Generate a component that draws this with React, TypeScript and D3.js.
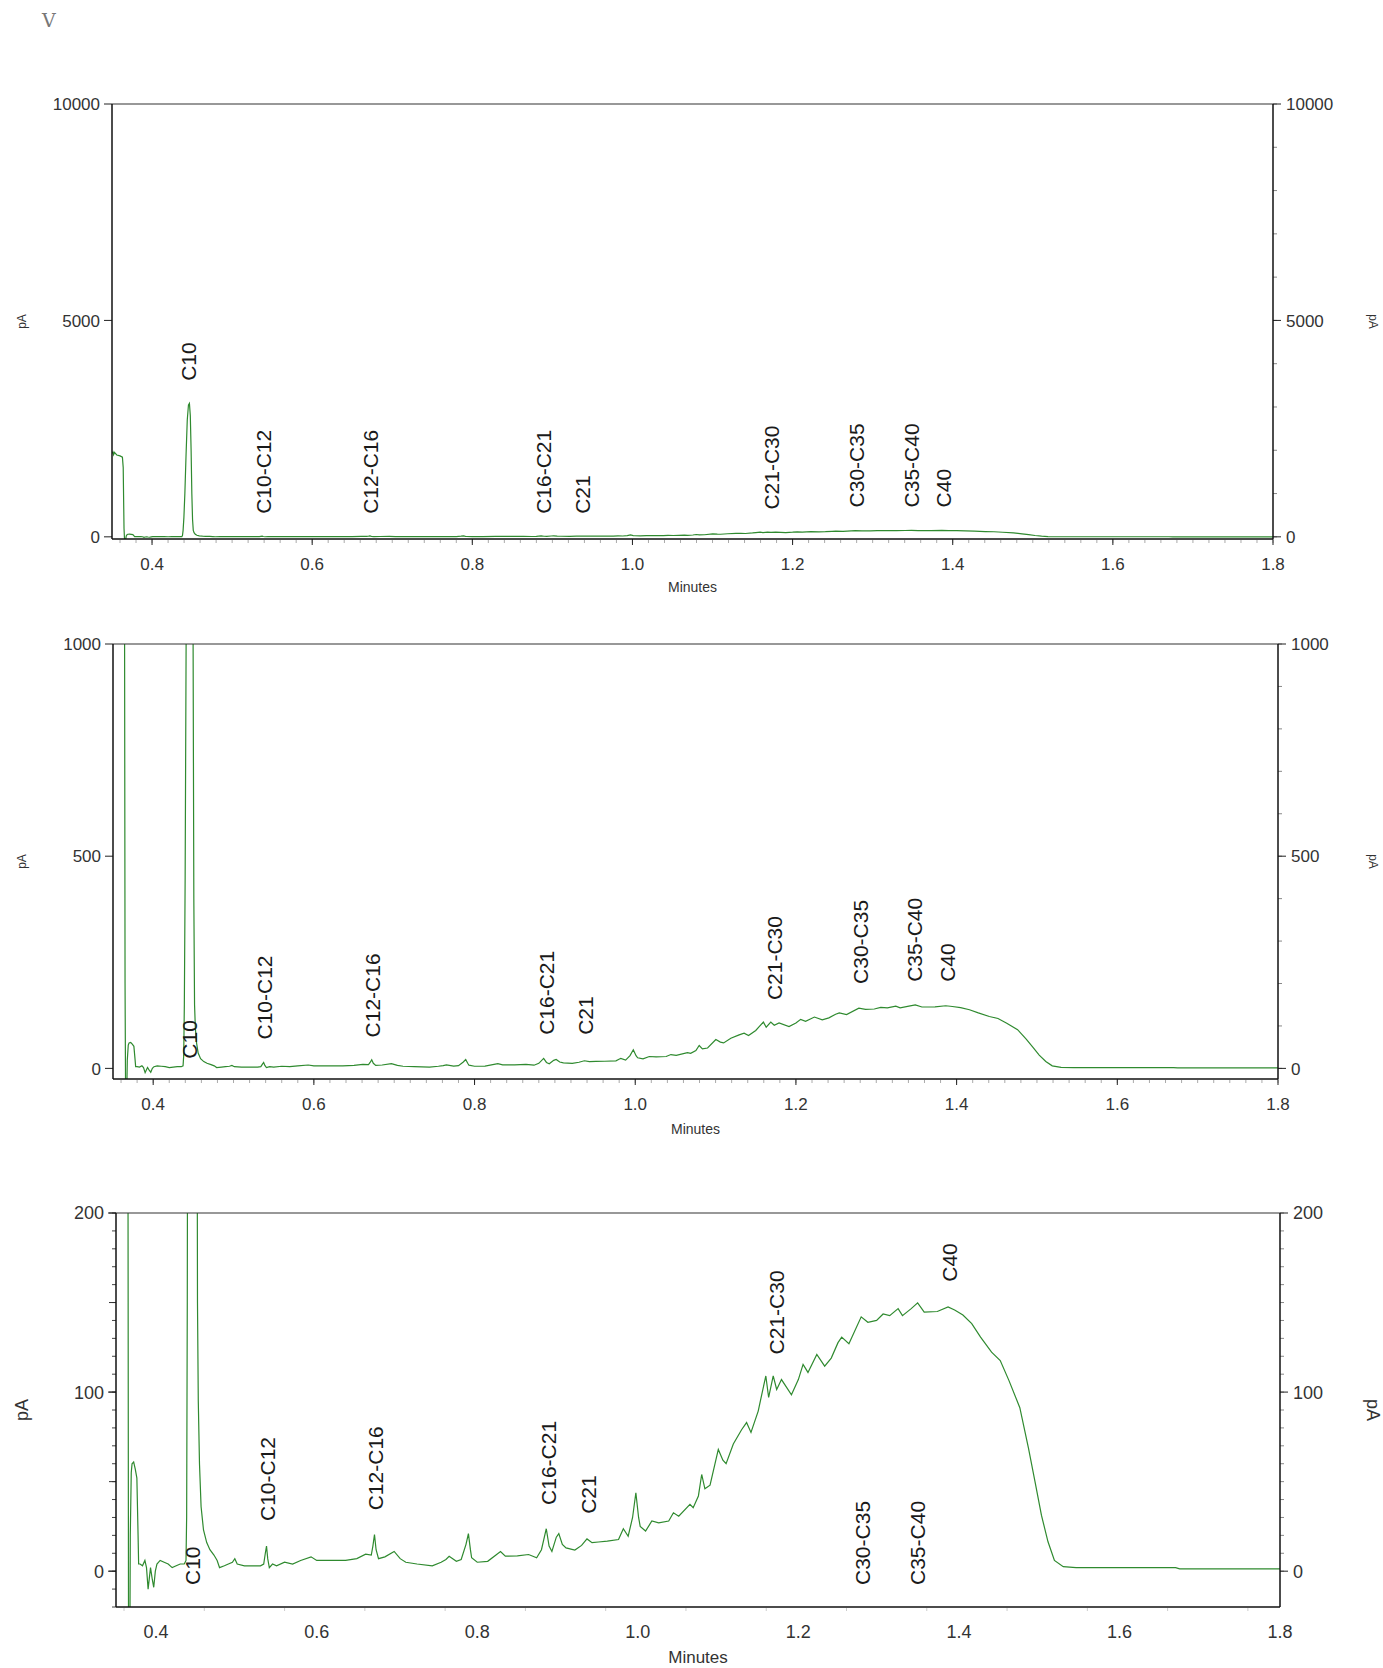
import React, { useEffect } from "react";
import * as d3 from "d3";

// ---------- DATA ----------
// retention time (minutes) and detector signal (pA)
const times = [
  0.35, 0.3512, 0.352, 0.353, 0.356, 0.36, 0.363, 0.364, 0.365, 0.3658, 0.3668, 0.3678, 0.369, 0.37, 0.372,
  0.374, 0.376, 0.3775, 0.3782, 0.38, 0.383, 0.386, 0.388, 0.39, 0.3915, 0.393, 0.395, 0.397, 0.399, 0.401,
  0.405, 0.41, 0.415, 0.42, 0.425, 0.43, 0.435, 0.4372, 0.438, 0.4388, 0.4398, 0.441, 0.4425, 0.444, 0.4455,
  0.4467, 0.4478, 0.4488, 0.4497, 0.4506, 0.4515, 0.4525, 0.454, 0.456, 0.459, 0.463, 0.467, 0.472, 0.476,
  0.479, 0.485, 0.49, 0.495, 0.498, 0.501, 0.51, 0.52, 0.53, 0.534, 0.536, 0.5375, 0.539, 0.541, 0.545, 0.55,
  0.56, 0.57, 0.58, 0.593, 0.6, 0.62, 0.636, 0.65, 0.661, 0.668, 0.67, 0.672, 0.674, 0.677, 0.685, 0.6965,
  0.704, 0.711, 0.725, 0.744, 0.755, 0.761, 0.765, 0.774, 0.78, 0.786, 0.789, 0.7915, 0.793, 0.8, 0.813,
  0.829, 0.835, 0.85, 0.864, 0.874, 0.88, 0.886, 0.8895, 0.893, 0.8985, 0.9016, 0.906, 0.9106, 0.9216, 0.93,
  0.9367, 0.943, 0.951, 0.962, 0.976, 0.982, 0.988, 0.9935, 0.9976, 1.001, 1.003, 1.0097, 1.0175, 1.026,
  1.0385, 1.0444, 1.051, 1.065, 1.069, 1.0755, 1.0796, 1.0836, 1.09, 1.1003, 1.106, 1.11, 1.119, 1.1293,
  1.1355, 1.141, 1.15, 1.154, 1.1595, 1.163, 1.1687, 1.173, 1.179, 1.1914, 1.2, 1.2059, 1.212, 1.223, 1.2328,
  1.241, 1.2494, 1.254, 1.263, 1.2783, 1.2866, 1.2975, 1.3056, 1.3138, 1.3243, 1.3297, 1.3406, 1.3486, 1.3568,
  1.3731, 1.3865, 1.3947, 1.405, 1.416, 1.427, 1.4407, 1.4515, 1.4624, 1.4759, 1.4866, 1.4948, 1.5028, 1.511,
  1.519, 1.53, 1.546, 1.67, 1.675, 1.8,
];
const signal = [
  1930, 1960, 1900, 1950, 1890, 1870, 1840, 1600, 200, -120, -100, 20, 55, 60, 61,
  57, 52, 20, 4, 4, 3, 6, 2, -10, -4, 2, -4, -9, 0, 4,
  6, 5, 4, 2, 3, 4, 4, 6, 30, 150, 450, 1000, 1900, 2700, 3050,
  3085, 2800, 2000, 1000, 400, 150, 95, 60, 36, 23, 16, 12, 9, 6,
  2, 3, 4, 5, 7, 4, 3, 3, 3, 4, 10, 14, 7, 2, 4, 3,
  5, 4, 6, 8, 6, 6, 6, 7, 9.5, 9, 14, 20.5, 12, 7, 8, 11,
  7, 5, 4, 3, 5, 6.5, 8.3, 5.5, 6.5, 15, 21, 12, 7.5, 5, 5.5,
  11, 8.4, 8.5, 9.3, 7.5, 12, 23.7, 14, 11, 19, 21, 15, 13, 11.8, 14.4,
  18, 15.9, 16.3, 16.8, 17.7, 23.7, 19.5, 30, 43.8, 30, 25, 22.4, 28, 27,
  28, 32.6, 30.7, 37.3, 35.4, 42, 54, 46, 48, 68, 62, 60, 71, 79,
  83, 77.5, 89.4, 97.8, 109, 97, 109, 101.5, 107, 98.5, 107, 115.5, 111, 121, 114.5,
  119, 127.6, 130.7, 127, 142, 139, 140, 143.6, 142.7, 146.6, 142.7, 146.6, 149.8, 144.6,
  145, 147.6, 145.8, 143, 138.2, 130.7, 122.3, 117.6, 106.4, 91.3, 68.8, 50, 31.3, 16.4,
  6, 2.5, 2, 2, 1.3, 1.3,
];

const peakNames = ["C10", "C10-C12", "C12-C16", "C16-C21", "C21", "C21-C30", "C30-C35", "C35-C40", "C40"];
const peakTimes = [0.445, 0.539, 0.673, 0.889, 0.938, 1.173, 1.28, 1.348, 1.388];
// signal level (pA) at which each label starts, per panel
const labelLevelsTop = [3605, 532, 532, 532, 532, 629, 680, 680, 680];
const labelLevelsMiddle = [23, 68, 73, 79, 79, 161, 199, 204, 204];
const labelLevelsBottom = [-7.7, 28, 34, 37, 32, 121, -7.7, -7.7, 161.6];

const xTickValues = [0.4, 0.6, 0.8, 1.0, 1.2, 1.4, 1.6, 1.8];
const yTicksTop = [0, 5000, 10000];
const yTicksMiddle = [0, 500, 1000];
const yTicksBottom = [0, 100, 200];

const xDomain: [number, number] = [0.35, 1.8];

const FONT = "'Liberation Sans', Arial, Helvetica, sans-serif";
const LINE = "#2f8a2f";

type PanelProps = {
  id: string;
  xRange: [number, number];
  yRange: [number, number];
  yDomain: [number, number];
  yTicks: number[];
  yMinorStepRight: number;
  yMinorStepLeft?: number;
  yMidStepLeft?: number;
  labelLevels: number[];
  tickFont: number;
  axisTitleFont: number;
  minutesFont: number;
  minutesOffset: number;
  xMinorStep: number;
  xMinorColor: string;
  showXMajorTicks: boolean;
};

function Panel(p: PanelProps) {
  const x = d3.scaleLinear().domain(xDomain).range(p.xRange);
  const y = d3.scaleLinear().domain(p.yDomain).range(p.yRange);
  const [x0, x1] = p.xRange;
  const [yb, yt] = p.yRange;
  const pts = times.map((t, i) => [t, signal[i]] as [number, number]);
  const line = d3
    .line<[number, number]>()
    .x((d) => x(d[0]))
    .y((d) => y(d[1]));

  const minorRight = d3.range(p.yDomain[0] < 0 ? 0 : p.yDomain[0], p.yDomain[1] + 1e-9, p.yMinorStepRight);
  const minorLeft = p.yMinorStepLeft ? d3.range(p.yDomain[1], p.yDomain[0] - 1e-9, -p.yMinorStepLeft) : [];
  const midLeft = p.yMidStepLeft ? d3.range(0, p.yDomain[1] + 1e-9, p.yMidStepLeft) : [];
  const xMinor = d3.range(0.36, 1.8 + 1e-9, p.xMinorStep);

  return (
    <g>
      <defs>
        <clipPath id={"clip-" + p.id}>
          <rect x={x0} y={yt} width={x1 - x0} height={yb - yt} />
        </clipPath>
      </defs>
      {xMinor.map((v, i) => (
        <line key={"xm" + i} x1={x(v)} x2={x(v)} y1={yb + 1} y2={yb + 4} stroke={p.xMinorColor} strokeWidth={1} />
      ))}
      {xTickValues.map((v) => (
        <g key={"xt" + v}>
          {p.showXMajorTicks && <line x1={x(v)} x2={x(v)} y1={yb} y2={yb + 6} stroke="#222" strokeWidth={1} />}
          <text x={x(v)} y={yb + 31} textAnchor="middle" fontFamily={FONT} fontSize={p.tickFont} fill="#333">
            {v.toFixed(1)}
          </text>
        </g>
      ))}
      <text
        x={(x0 + x1) / 2}
        y={yb + p.minutesOffset}
        textAnchor="middle"
        fontFamily={FONT}
        fontSize={p.minutesFont}
        fill="#333"
      >
        Minutes
      </text>
      {minorLeft.map((v, i) => (
        <line key={"lm" + i} x1={x0 - 4} x2={x0} y1={y(v)} y2={y(v)} stroke="#444" strokeWidth={1} />
      ))}
      {midLeft.map((v, i) => (
        <line key={"ld" + i} x1={x0 - 7} x2={x0} y1={y(v)} y2={y(v)} stroke="#333" strokeWidth={1} />
      ))}
      {p.yTicks.map((v) => (
        <g key={"yl" + v}>
          <line x1={x0 - 8} x2={x0} y1={y(v)} y2={y(v)} stroke="#222" strokeWidth={1} />
          <text
            x={x0 - 12}
            y={y(v)}
            dy="0.36em"
            textAnchor="end"
            fontFamily={FONT}
            fontSize={p.tickFont}
            fill="#333"
          >
            {v}
          </text>
        </g>
      ))}
      {minorRight.map((v, i) => (
        <line key={"rm" + i} x1={x1} x2={x1 + 4} y1={y(v)} y2={y(v)} stroke="#888" strokeWidth={1} />
      ))}
      {p.yTicks.map((v) => (
        <g key={"yr" + v}>
          <line x1={x1} x2={x1 + 8} y1={y(v)} y2={y(v)} stroke="#222" strokeWidth={1} />
          <text
            x={x1 + 13}
            y={y(v)}
            dy="0.36em"
            textAnchor="start"
            fontFamily={FONT}
            fontSize={p.tickFont}
            fill="#333"
          >
            {v}
          </text>
        </g>
      ))}
      <text
        transform={`translate(${22},${(yb + yt) / 2}) rotate(-90)`}
        textAnchor="middle"
        dy="0.35em"
        fontFamily={FONT}
        fontSize={p.axisTitleFont}
        fill="#333"
      >
        pA
      </text>
      <text
        transform={`translate(${1373},${(yb + yt) / 2}) rotate(90)`}
        textAnchor="middle"
        dy="0.35em"
        fontFamily={FONT}
        fontSize={p.axisTitleFont}
        fill="#333"
      >
        pA
      </text>
      <path d={line(pts) || ""} fill="none" stroke={LINE} strokeWidth={1.2} clipPath={`url(#clip-${p.id})`} />
      <line x1={x0} x2={x1} y1={yt} y2={yt} stroke="#333" strokeWidth={1.2} />
      <line x1={x0} x2={x1} y1={yb} y2={yb} stroke="#111" strokeWidth={1.5} />
      <line x1={x0} x2={x0} y1={yt} y2={yb} stroke="#111" strokeWidth={1.5} />
      <line x1={x1} x2={x1} y1={yt} y2={yb} stroke="#111" strokeWidth={1.5} />
      {peakNames.map((n, i) => (
        <text
          key={"pk" + n}
          transform={`translate(${x(peakTimes[i])},${y(p.labelLevels[i])}) rotate(-90)`}
          dy="0.36em"
          textAnchor="start"
          fontFamily={FONT}
          fontSize={21}
          fill="#1a1a1a"
        >
          {n}
        </text>
      ))}
    </g>
  );
}

export default function App() {
  useEffect(() => {
    document.body.style.margin = "0";
  }, []);
  return (
    <svg
      width={1383}
      height={1668}
      viewBox="0 0 1383 1668"
      style={{ position: "absolute", left: 0, top: 0, background: "#fff" }}
    >
      <rect x={0} y={0} width={1383} height={1668} fill="#fff" />
      <text x={42} y={27} fontFamily="'DejaVu Serif', 'Liberation Serif', serif" fontSize={19} fill="#777">
        V
      </text>
      <Panel
        id="top"
        xRange={[112, 1273]}
        yRange={[539, 104]}
        yDomain={[-50, 10000]}
        yTicks={yTicksTop}
        yMinorStepRight={1000}
        labelLevels={labelLevelsTop}
        tickFont={17}
        axisTitleFont={12}
        minutesFont={14}
        minutesOffset={53}
        xMinorStep={0.02}
        xMinorColor="#aaa"
        showXMajorTicks={true}
      />
      <Panel
        id="mid"
        xRange={[113, 1278]}
        yRange={[1079, 644]}
        yDomain={[-25, 1000]}
        yTicks={yTicksMiddle}
        yMinorStepRight={100}
        labelLevels={labelLevelsMiddle}
        tickFont={17}
        axisTitleFont={12}
        minutesFont={14}
        minutesOffset={55}
        xMinorStep={0.02}
        xMinorColor="#aaa"
        showXMajorTicks={true}
      />
      <Panel
        id="bot"
        xRange={[116, 1280]}
        yRange={[1607, 1213]}
        yDomain={[-20, 200]}
        yTicks={yTicksBottom}
        yMinorStepRight={10}
        yMinorStepLeft={10}
        yMidStepLeft={50}
        labelLevels={labelLevelsBottom}
        tickFont={18}
        axisTitleFont={18}
        minutesFont={17}
        minutesOffset={56}
        xMinorStep={0.1}
        xMinorColor="#ccc"
        showXMajorTicks={false}
      />
    </svg>
  );
}
